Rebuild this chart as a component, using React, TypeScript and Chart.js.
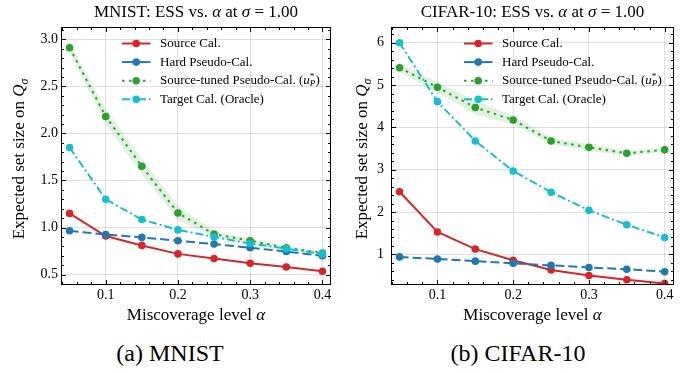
import React, { useEffect, useRef } from "react";
import { Chart, registerables } from "chart.js";

Chart.register(...registerables);

// ---------------- data ----------------
const alphas = [0.05, 0.1, 0.15, 0.2, 0.25, 0.3, 0.35, 0.4];
const xTicks = [0.1, 0.2, 0.3, 0.4];

const mnistSource = [1.15, 0.91, 0.81, 0.72, 0.67, 0.62, 0.58, 0.535];
const mnistHard = [0.965, 0.925, 0.895, 0.86, 0.825, 0.785, 0.745, 0.7];
const mnistTuned = [2.91, 2.18, 1.65, 1.155, 0.93, 0.86, 0.785, 0.73];
const mnistTunedLo = [2.86, 2.1, 1.57, 1.08, 0.9, 0.84, 0.77, 0.715];
const mnistTunedHi = [2.96, 2.26, 1.73, 1.23, 0.96, 0.88, 0.8, 0.745];
const mnistTarget = [1.85, 1.3, 1.085, 0.975, 0.9, 0.83, 0.775, 0.72];
const mnistYTicks = [0.5, 1.0, 1.5, 2.0, 2.5, 3.0];

const cifarSource = [2.48, 1.53, 1.125, 0.86, 0.63, 0.5, 0.4, 0.31];
const cifarHard = [0.94, 0.89, 0.84, 0.79, 0.74, 0.69, 0.65, 0.59];
const cifarTuned = [5.41, 4.95, 4.47, 4.175, 3.68, 3.53, 3.39, 3.47];
const cifarTunedLo = [5.31, 4.83, 4.31, 4.07, 3.6, 3.45, 3.33, 3.42];
const cifarTunedHi = [5.51, 5.07, 4.63, 4.28, 3.76, 3.61, 3.45, 3.52];
const cifarTarget = [6.0, 4.61, 3.68, 2.97, 2.47, 2.04, 1.7, 1.4];
const cifarYTicks = [1, 2, 3, 4, 5, 6];

const seriesLabels = [
  "Source Cal.",
  "Hard Pseudo-Cal.",
  "Source-tuned Pseudo-Cal. (",
  "Target Cal. (Oracle)",
];

// ---------------- style ----------------
const FONT = '"Liberation Serif", "Times New Roman", Times, serif';
const RED = "#d62728";
const BLUE = "#1f77b4";
const GREEN = "#2ca02c";
const CYAN = "#17becf";
const BAND = "rgba(44,160,44,0.15)";
const GRID = "rgba(0,0,0,0.12)";
const TICK_SIZE = 14;
const LABEL_SIZE = 17;
const LEGEND_SIZE = 13;

type Seg = { t: string; it?: boolean; sc?: number; dy?: number; adv?: boolean };

function segFont(s: Seg, size: number) {
  return `${s.it ? "italic " : ""}${size * (s.sc ?? 1)}px ${FONT}`;
}

function drawRich(
  ctx: CanvasRenderingContext2D,
  segs: Seg[],
  x: number,
  y: number,
  size: number,
  align: "center" | "left"
) {
  let w = 0;
  for (const s of segs) {
    ctx.font = segFont(s, size);
    if (s.adv !== false) w += ctx.measureText(s.t).width;
  }
  let cx = align === "center" ? x - w / 2 : x;
  ctx.textAlign = "left";
  ctx.textBaseline = "middle";
  ctx.fillStyle = "#000";
  for (const s of segs) {
    ctx.font = segFont(s, size);
    ctx.fillText(s.t, cx, y + (s.dy ?? 0) * size);
    if (s.adv !== false) cx += ctx.measureText(s.t).width;
  }
}

interface Spec {
  left: number;
  width: number;
  height: number;
  area: { left: number; top: number; right: number; bottom: number };
  xMin: number;
  xMax: number;
  yMin: number;
  yMax: number;
  yTicks: number[];
  yDecimals: number;
  yMinorStep: number;
  yLabelPad: number;
  yTitleX: number;
  legendX: number;
  title: string;
  source: number[];
  hard: number[];
  tuned: number[];
  tunedLo: number[];
  tunedHi: number[];
  target: number[];
}

const legendItems = [
  { color: RED, dash: [] as number[] },
  { color: BLUE, dash: [] as number[] },
  { color: GREEN, dash: [2.5, 4.5] },
  { color: CYAN, dash: [8, 3, 2, 3] },
];

function buildConfig(spec: Spec): any {
  const pts = (ys: number[]) => alphas.map((x, i) => ({ x, y: ys[i] }));
  const line = (label: string, ys: number[], color: string, dash: number[], order: number) => ({
    label,
    data: pts(ys),
    borderColor: color,
    backgroundColor: color,
    pointBackgroundColor: color,
    pointBorderColor: color,
    pointBorderWidth: 0,
    pointRadius: 3.8,
    borderWidth: 2,
    borderDash: dash,
    borderCapStyle: "butt",
    fill: false,
    order,
  });

  const decor = {
    id: "decor",
    afterDraw(chart: any) {
      const ctx: CanvasRenderingContext2D = chart.ctx;
      const { left, right, top, bottom } = chart.chartArea;
      const xs = chart.scales.x;
      const ys = chart.scales.y;
      ctx.save();
      // frame
      ctx.strokeStyle = "#000";
      ctx.lineWidth = 1;
      ctx.setLineDash([]);
      const L = Math.round(left) - 0.5;
      const R = Math.round(right) + 0.5;
      const T = Math.round(top) - 0.5;
      const B = Math.round(bottom) + 0.5;
      ctx.strokeRect(L, T, R - L, B - T);
      // ticks (inward, all sides)
      const tickX = (v: number, len: number) => {
        const p = Math.round(xs.getPixelForValue(v)) + 0.5;
        ctx.beginPath();
        ctx.moveTo(p, B);
        ctx.lineTo(p, B - len);
        ctx.moveTo(p, T);
        ctx.lineTo(p, T + len);
        ctx.stroke();
      };
      const tickY = (v: number, len: number) => {
        const p = Math.round(ys.getPixelForValue(v)) + 0.5;
        ctx.beginPath();
        ctx.moveTo(L, p);
        ctx.lineTo(L + len, p);
        ctx.moveTo(R, p);
        ctx.lineTo(R - len, p);
        ctx.stroke();
      };
      const near = (v: number, arr: number[]) => arr.some((a) => Math.abs(a - v) < 1e-6);
      for (let k = Math.ceil(spec.xMin / 0.02 - 1e-9); k * 0.02 <= spec.xMax + 1e-9; k++) {
        const v = k * 0.02;
        if (!near(v, xTicks)) tickX(v, 2.5);
      }
      xTicks.forEach((v) => tickX(v, 4.5));
      for (
        let k = Math.ceil(spec.yMin / spec.yMinorStep - 1e-9);
        k * spec.yMinorStep <= spec.yMax + 1e-9;
        k++
      ) {
        const v = k * spec.yMinorStep;
        if (!near(v, spec.yTicks)) tickY(v, 2.5);
      }
      spec.yTicks.forEach((v) => tickY(v, 4.5));

      // titles
      const cx = (left + right) / 2;
      const cy = (top + bottom) / 2;
      drawRich(
        ctx,
        [
          { t: spec.title + ": ESS vs. " },
          { t: "α", it: true },
          { t: " at " },
          { t: "σ", it: true },
          { t: " = 1.00" },
        ],
        cx,
        12.5,
        LABEL_SIZE,
        "center"
      );
      drawRich(
        ctx,
        [{ t: "Miscoverage level " }, { t: "α", it: true }],
        cx,
        315.5,
        LABEL_SIZE,
        "center"
      );
      ctx.save();
      ctx.translate(spec.yTitleX, cy + 3);
      ctx.rotate(-Math.PI / 2);
      drawRich(
        ctx,
        [
          { t: "Expected set size on " },
          { t: "Q", it: true },
          { t: "σ", it: true, sc: 0.7, dy: 0.28 },
        ],
        0,
        0,
        LABEL_SIZE,
        "center"
      );
      ctx.restore();

      // legend
      const lx = left + spec.legendX;
      legendItems.forEach((it, i) => {
        const y = top + 15.5 + i * 18.6;
        ctx.strokeStyle = it.color;
        ctx.fillStyle = it.color;
        ctx.lineWidth = 2;
        ctx.lineCap = "butt";
        ctx.setLineDash(it.dash);
        ctx.beginPath();
        ctx.moveTo(lx, y);
        ctx.lineTo(lx + 28.5, y);
        ctx.stroke();
        ctx.setLineDash([]);
        ctx.beginPath();
        ctx.arc(lx + 14.2, y, 3.8, 0, Math.PI * 2);
        ctx.fill();
        const segs: Seg[] =
          i === 2
            ? [
                { t: seriesLabels[2] },
                { t: "u", it: true },
                { t: "*", sc: 0.7, dy: -0.3, adv: false },
                { t: "P", it: true, sc: 0.7, dy: 0.25 },
                { t: ")" },
              ]
            : [{ t: seriesLabels[i] }];
        drawRich(ctx, segs, lx + 38, y, LEGEND_SIZE, "left");
      });
      ctx.restore();
    },
  };

  return {
    type: "line",
    data: {
      datasets: [
        {
          label: "band-lo",
          data: pts(spec.tunedLo),
          borderWidth: 0,
          borderColor: "rgba(0,0,0,0)",
          pointRadius: 0,
          fill: false,
          order: 11,
        },
        {
          label: "band-hi",
          data: pts(spec.tunedHi),
          borderWidth: 0,
          borderColor: "rgba(0,0,0,0)",
          backgroundColor: BAND,
          pointRadius: 0,
          fill: "-1",
          order: 10,
        },
        line(seriesLabels[0], spec.source, RED, [], 4),
        line(seriesLabels[1], spec.hard, BLUE, [9, 4], 3),
        line("Source-tuned Pseudo-Cal.", spec.tuned, GREEN, [2.5, 4.5], 2),
        line(seriesLabels[3], spec.target, CYAN, [8, 3, 2, 3], 1),
      ],
    },
    options: {
      animation: false,
      responsive: false,
      devicePixelRatio: 1,
      layout: {
        padding: {
          left: 0,
          top: spec.area.top,
          right: spec.width - spec.area.right,
          bottom: 0,
        },
      },
      plugins: {
        legend: { display: false },
        title: { display: false },
        tooltip: { enabled: false },
      },
      scales: {
        x: {
          type: "linear",
          min: spec.xMin,
          max: spec.xMax,
          afterBuildTicks: (s: any) => {
            s.ticks = xTicks.map((v) => ({ value: v }));
          },
          afterFit: (s: any) => {
            s.height = spec.height - spec.area.bottom;
          },
          grid: { color: GRID, lineWidth: 1, drawTicks: false },
          border: { display: false },
          ticks: {
            autoSkip: false,
            maxRotation: 0,
            padding: 3,
            color: "#000",
            font: { family: FONT, size: TICK_SIZE },
            callback: (v: any) => Number(v).toFixed(1),
          },
        },
        y: {
          type: "linear",
          min: spec.yMin,
          max: spec.yMax,
          afterBuildTicks: (s: any) => {
            s.ticks = spec.yTicks.map((v) => ({ value: v }));
          },
          afterFit: (s: any) => {
            s.width = spec.area.left;
          },
          grid: { color: GRID, lineWidth: 1, drawTicks: false },
          border: { display: false },
          ticks: {
            autoSkip: false,
            padding: spec.yLabelPad,
            color: "#000",
            font: { family: FONT, size: TICK_SIZE },
            callback: (v: any) => Number(v).toFixed(spec.yDecimals),
          },
        },
      },
    },
    plugins: [decor],
  };
}

const mnistSpec: Spec = {
  left: 0,
  width: 345,
  height: 330,
  area: { left: 62, top: 28, right: 330, bottom: 284 },
  xMin: 0.0395,
  xMax: 0.4105,
  yMin: 0.4,
  yMax: 3.12,
  yTicks: mnistYTicks,
  yDecimals: 1,
  yMinorStep: 0.1,
  yLabelPad: 4,
  yTitleX: 20,
  legendX: 60,
  title: "MNIST",
  source: mnistSource,
  hard: mnistHard,
  tuned: mnistTuned,
  tunedLo: mnistTunedLo,
  tunedHi: mnistTunedHi,
  target: mnistTarget,
};

const cifarSpec: Spec = {
  left: 349,
  width: 350,
  height: 330,
  area: { left: 43, top: 28, right: 324, bottom: 284 },
  xMin: 0.04,
  xMax: 0.411,
  yMin: 0.3,
  yMax: 6.35,
  yTicks: cifarYTicks,
  yDecimals: 0,
  yMinorStep: 0.2,
  yLabelPad: 8,
  yTitleX: 14,
  legendX: 72,
  title: "CIFAR-10",
  source: cifarSource,
  hard: cifarHard,
  tuned: cifarTuned,
  tunedLo: cifarTunedLo,
  tunedHi: cifarTunedHi,
  target: cifarTarget,
};

function EssChart({ spec }: { spec: Spec }) {
  const ref = useRef<HTMLCanvasElement>(null);
  useEffect(() => {
    const chart = new Chart(ref.current as HTMLCanvasElement, buildConfig(spec));
    return () => chart.destroy();
  }, [spec]);
  return (
    <canvas
      ref={ref}
      width={spec.width}
      height={spec.height}
      style={{
        position: "absolute",
        left: spec.left,
        top: 0,
        width: spec.width,
        height: spec.height,
      }}
    />
  );
}

function Caption({ text, cx }: { text: string; cx: number }) {
  return (
    <div
      style={{
        position: "absolute",
        left: cx - 120,
        width: 240,
        top: 338,
        height: 30,
        lineHeight: "30px",
        textAlign: "center",
        fontFamily: FONT,
        fontSize: 24,
        color: "#000",
        whiteSpace: "nowrap",
      }}
    >
      {text}
    </div>
  );
}

export default function App() {
  return (
    <div
      style={{
        position: "absolute",
        left: 0,
        top: 0,
        width: 699,
        height: 373,
        background: "#fff",
        overflow: "hidden",
      }}
    >
      <EssChart spec={mnistSpec} />
      <EssChart spec={cifarSpec} />
      <Caption text="(a) MNIST" cx={170} />
      <Caption text="(b) CIFAR-10" cx={518} />
    </div>
  );
}
